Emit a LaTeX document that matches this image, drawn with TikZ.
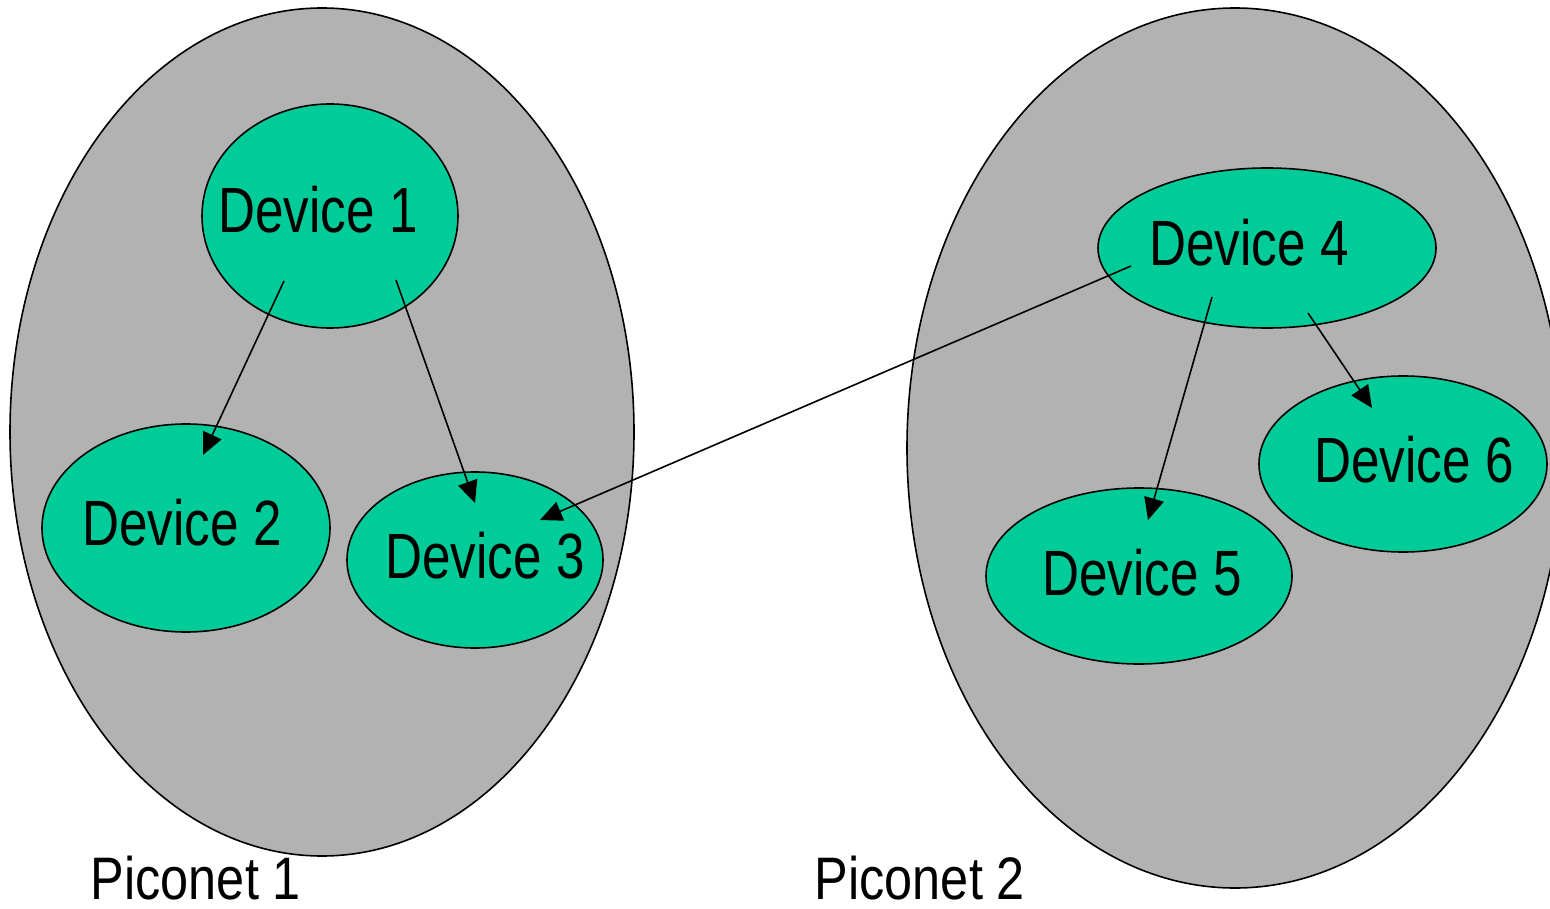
\documentclass[tikz,border=0pt]{standalone}
\usepackage{fontspec}
\setmainfont{Liberation Sans}[FakeStretch=0.8]
\newfontfamily\netfont{Liberation Sans}[FakeStretch=0.84]
\usetikzlibrary{arrows.meta}
\definecolor{netgrey}{RGB}{178,178,178}
\definecolor{devgreen}{RGB}{0,204,153}
\tikzset{
  piconet/.style={draw=black, line width=1.6pt, fill=netgrey},
  device/.style={draw=black, line width=1.6pt, fill=devgreen},
  devlabel/.style={anchor=base, inner sep=0pt, font=\fontsize{64}{70}\selectfont},
  netlabel/.style={anchor=base, inner sep=0pt, font=\netfont\fontsize{60}{66}\selectfont},
  link/.style={line width=1.6pt, -{Triangle[length=22pt, width=20pt]}}
}
\begin{document}
\begin{tikzpicture}[x=1pt, y=-1pt]
\useasboundingbox (0,0) rectangle (1550,909);
\clip (0,0) rectangle (1550,909);
\fill[white] (0,0) rectangle (1550,909);

% the two piconets
\draw[piconet] (322,432) ellipse [x radius=312, y radius=424];
\draw[piconet] (1235,448) ellipse [x radius=328, y radius=440];

% devices
\draw[device] (330,216) ellipse [x radius=128, y radius=112];
\draw[device] (186,528) ellipse [x radius=144, y radius=104];
\draw[device] (475,560) ellipse [x radius=128, y radius=88];
\draw[device] (1267,248) ellipse [x radius=169, y radius=80];
\draw[device] (1139,576) ellipse [x radius=153, y radius=88];
\draw[device] (1403,464) ellipse [x radius=144, y radius=88];

\node[devlabel] (d1) at (318,233) {Device 1};
\node[devlabel] (d2) at (182,545) {Device 2};
\node[devlabel] (d3) at (485,578) {Device 3};
\node[devlabel] (d4) at (1249,266) {Device 4};
\node[devlabel] (d5) at (1142,595) {Device 5};
\node[devlabel] (d6) at (1414,482) {Device 6};

\node[netlabel] (p1) at (196,899) {Piconet 1};
\node[netlabel] (p2) at (920,899) {Piconet 2};

% link end points
\coordinate (d1a) at (284,281);
\coordinate (d1b) at (396,280);
\coordinate (d2in) at (203,455);
\coordinate (d3in) at (475,503);
\coordinate (d3inb) at (540,520);
\coordinate (d4a) at (1131,266);
\coordinate (d4b) at (1212,297);
\coordinate (d4c) at (1308,313);
\coordinate (d5in) at (1148,520);
\coordinate (d6in) at (1372,408);

\draw[link] (d1a) -- (d2in);
\draw[link] (d1b) -- (d3in);
\draw[link] (d4a) -- (d3inb);
\draw[link] (d4b) -- (d5in);
\draw[link] (d4c) -- (d6in);
\end{tikzpicture}
\end{document}
